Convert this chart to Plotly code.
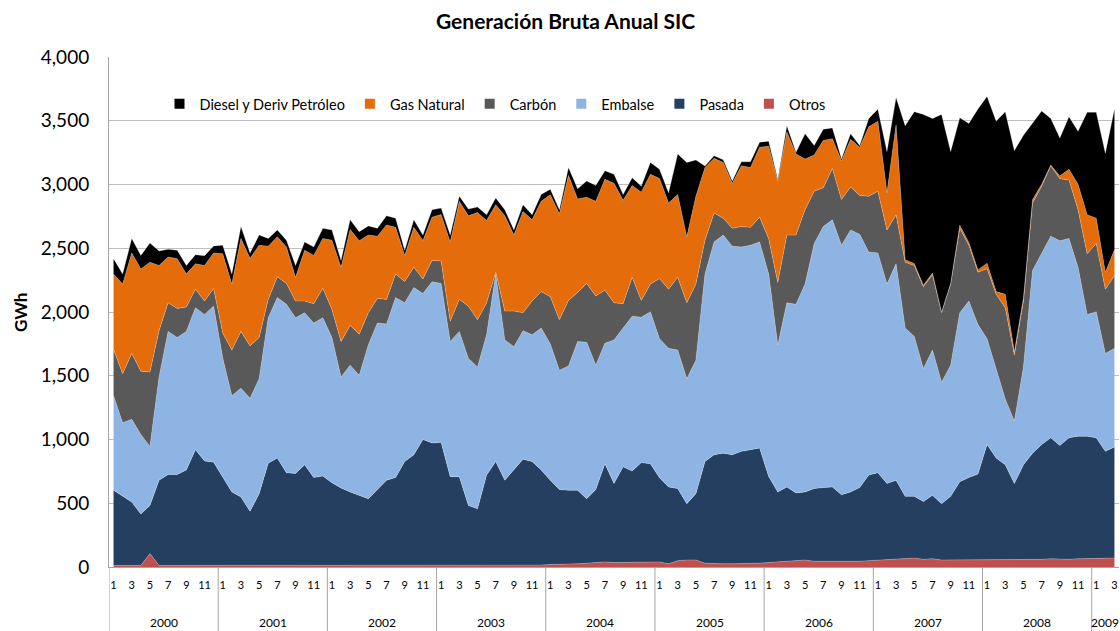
import plotly.graph_objects as go

# periodos mensuales ene-2000 .. mar-2009
periodos = [f"{a}-{m:02d}" for a in range(2000, 2010) for m in range(1, 13)][:111]
anios = [str(a) for a in range(2000, 2010)]

otros = [
    12, 12, 12, 12, 105, 12, 12, 12, 12, 12, 12, 12,
    12, 12, 12, 12, 12, 12, 12, 12, 12, 12, 12, 12,
    12, 12, 12, 12, 12, 12, 12, 12, 12, 12, 12, 12,
    12, 12, 12, 12, 12, 12, 12, 12, 12, 12, 15, 15,
    20, 20, 25, 25, 30, 35, 40, 35, 35, 35, 40, 40,
    40, 25, 50, 55, 55, 30, 25, 25, 25, 25, 30, 30,
    35, 40, 40, 45, 55, 45, 45, 40, 40, 40, 45, 50,
    55, 55, 60, 65, 70, 60, 65, 55, 55, 55, 60, 60,
    60, 60, 60, 55, 60, 60, 60, 65, 60, 60, 65, 65,
    65, 65, 70,
]
pasada = [
    590, 540, 497, 404, 378, 669, 714, 714, 749, 908, 820, 810,
    688, 577, 537, 425, 563, 802, 842, 728, 722, 789, 690, 701,
    648, 608, 577, 548, 523, 595, 669, 690, 815, 868, 988, 961,
    966, 696, 696, 471, 444, 709, 815, 669, 749, 834, 812, 746,
    660, 587, 577, 577, 505, 572, 769, 620, 752, 718, 779, 769,
    660, 603, 565, 441, 520, 797, 855, 868, 855, 882, 890, 903,
    675, 549, 588, 536, 534, 570, 578, 588, 527, 549, 578, 671,
    685, 600, 621, 489, 484, 454, 497, 441, 499, 613, 642, 669,
    900, 794, 741, 600, 741, 833, 900, 948, 892, 953, 961, 961,
    948, 842, 871,
]
embalse = [
    742, 580, 649, 623, 463, 809, 1122, 1074, 1087, 1113, 1148, 1225,
    940, 755, 853, 886, 902, 1140, 1259, 1320, 1220, 1193, 1212, 1241,
    1140, 870, 994, 943, 1207, 1307, 1225, 1411, 1246, 1312, 1145, 1264,
    1246, 1060, 1140, 1153, 1113, 1100, 1471, 1100, 967, 1007, 994, 1113,
    1070, 936, 975, 1166, 1228, 976, 946, 1126, 1087, 1214, 1140, 1192,
    1090, 1087, 1087, 981, 1047, 1471, 1670, 1710, 1636, 1603, 1604, 1617,
    1588, 1153, 1445, 1479, 1630, 1922, 2047, 2095, 1957, 2054, 1986, 1750,
    1723, 1564, 1697, 1320, 1254, 1042, 1140, 954, 1029, 1326, 1384, 1172,
    830, 702, 517, 490, 768, 1432, 1498, 1582, 1606, 1564, 1325, 954,
    988, 768, 774,
]
carbon = [
    363, 384, 517, 496, 584, 363, 225, 228, 191, 146, 106, 137,
    195, 358, 446, 411, 323, 145, 164, 164, 132, 92, 151, 233,
    220, 278, 312, 323, 252, 193, 193, 185, 167, 159, 114, 167,
    176, 159, 251, 410, 371, 252, 14, 226, 279, 141, 265, 286,
    370, 397, 514, 385, 461, 543, 416, 292, 191, 305, 132, 218,
    472, 464, 570, 596, 597, 265, 226, 133, 140, 160, 140, 194,
    277, 490, 530, 543, 583, 411, 304, 402, 358, 337, 305, 437,
    485, 424, 384, 517, 557, 642, 591, 544, 636, 662, 438, 411,
    550, 583, 715, 517, 517, 530, 529, 552, 488, 458, 451, 477,
    536, 504, 570,
]
gas_natural = [
    591, 703, 788, 803, 861, 512, 358, 390, 259, 199, 279, 279,
    622, 517, 729, 686, 724, 417, 313, 286, 186, 398, 379, 390,
    543, 583, 753, 732, 609, 488, 584, 366, 204, 313, 301, 340,
    365, 623, 769, 708, 841, 644, 530, 747, 596, 795, 637, 708,
    800, 830, 981, 734, 676, 742, 870, 936, 811, 721, 849, 861,
    786, 676, 649, 517, 689, 570, 429, 437, 353, 477, 469, 549,
    725, 795, 809, 637, 398, 284, 372, 234, 304, 374, 379, 544,
    549, 292, 706, 19, 15, 12, 12, 6, 6, 24, 21, 18,
    43, 21, 106, 27, 27, 27, 14, 5, 21, 85, 199, 305,
    199, 133, 204,
]
diesel = [
    120, 79, 114, 106, 151, 114, 61, 66, 67, 71, 77, 55,
    67, 79, 93, 43, 79, 61, 53, 53, 93, 66, 66, 79,
    80, 53, 75, 72, 72, 61, 71, 72, 40, 59, 43, 58,
    50, 53, 40, 53, 42, 45, 53, 48, 40, 53, 39, 53,
    43, 32, 61, 79, 127, 125, 66, 71, 45, 60, 47, 93,
    72, 80, 318, 583, 284, 12, 21, 21, 18, 31, 45, 39,
    40, 14, 48, 13, 199, 74, 87, 85, 15, 45, 12, 66,
    93, 323, 214, 1050, 1191, 1340, 1213, 1550, 1033, 843, 933, 1262,
    1307, 1337, 1432, 1577, 1273, 596, 575, 366, 297, 411, 416, 804,
    830, 933, 1103,
]

series = [
    ("Otros", otros, "#C0504D"),
    ("Pasada", pasada, "#243F60"),
    ("Embalse", embalse, "#8EB4E3"),
    ("Carbón", carbon, "#595959"),
    ("Gas Natural", gas_natural, "#E46C0A"),
    ("Diesel y Deriv Petróleo", diesel, "#000000"),
]

fig = go.Figure()
for nombre, valores, color in series:
    fig.add_trace(go.Scatter(
        x=periodos, y=valores, name=nombre, stackgroup="one",
        mode="lines", line=dict(width=0.7, color="rgba(255,255,255,0.35)"),
        fillcolor=color, showlegend=False, hoverinfo="x+y+name",
    ))

# entradas de leyenda con cuadrados, como en Excel
for nombre, valores, color in reversed(series):
    fig.add_trace(go.Scatter(
        x=[None], y=[None], name=nombre, mode="markers",
        marker=dict(symbol="square", size=10, color=color),
    ))

meses = [p[-2:].lstrip("0") for p in periodos]
tick_vals = [p for p, m in zip(periodos, meses) if int(m) % 2 == 1]
tick_text = [m for m in meses if int(m) % 2 == 1]

fig.update_layout(
    width=1120, height=631,
    margin=dict(l=109, r=1, t=57, b=64),
    paper_bgcolor="white", plot_bgcolor="white",
    font=dict(family="Lato", color="#000000"),
    title=dict(text="<b>Generación Bruta Anual SIC</b>", x=0.505, xanchor="center",
               y=0.966, yanchor="middle", font=dict(size=21)),
    legend=dict(orientation="h", x=0.05, y=0.908, xanchor="left", yanchor="middle",
                font=dict(size=14.5), bgcolor="rgba(0,0,0,0)", itemwidth=30,
                traceorder="normal"),
    showlegend=True,
)

fig.update_yaxes(
    range=[0, 4000], dtick=500, tickformat=",", tickfont=dict(size=19),
    showgrid=True, gridcolor="#BFBFBF", gridwidth=1,
    showline=True, linecolor="#A6A6A6", linewidth=1, zeroline=False,
    ticks="", ticklabelstandoff=15,
)
fig.update_xaxes(
    type="category", range=[-0.5, len(periodos) - 0.5],
    tickmode="array", tickvals=tick_vals, ticktext=tick_text,
    tickfont=dict(size=11), tickangle=0, showgrid=False,
    showline=True, linecolor="#A6A6A6", linewidth=1, ticks="",
    ticklabelstandoff=8,
)

# separadores y etiquetas de año bajo el eje
for i, anio in enumerate(anios):
    ini = periodos.index(f"{anio}-01")
    n = sum(1 for p in periodos if p.startswith(anio))
    fig.add_shape(type="line", xref="x", yref="paper", x0=ini - 0.5, x1=ini - 0.5,
                  y0=0, y1=-0.127, line=dict(color="#A6A6A6", width=1))
    fig.add_annotation(x=ini + (n - 1) / 2, y=-0.108, xref="x", yref="paper",
                       text=anio, showarrow=False, font=dict(size=12),
                       yanchor="middle")

fig.add_annotation(x=-0.088, y=0.5, xref="paper", yref="paper", text="<b>GWh</b>",
                   textangle=-90, showarrow=False, font=dict(size=17),
                   xanchor="center", yanchor="middle")

fig.write_html("out.html", config={"displayModeBar": False},
               post_script="document.body.style.margin='0px';")
